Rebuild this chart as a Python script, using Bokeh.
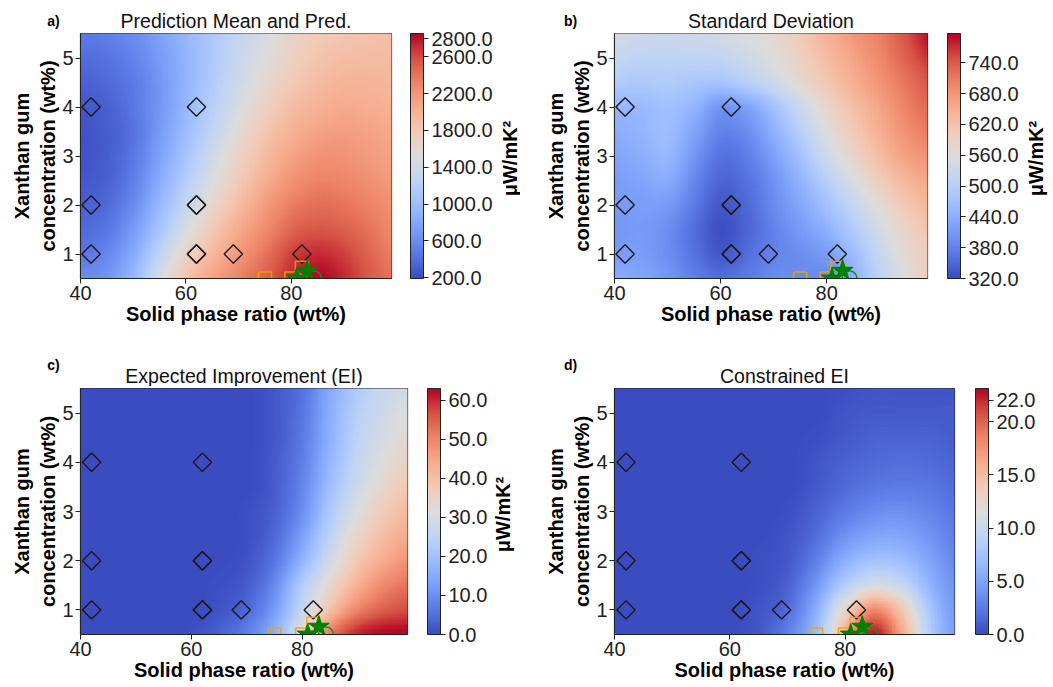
import numpy as np
from bokeh.plotting import figure
from bokeh.layouts import column, row
from bokeh.models import (LinearColorMapper, ColorBar, FixedTicker, PrintfTickFormatter,
                          Label, AllLabels)
from bokeh.embed import file_html
from bokeh.resources import INLINE

# ---------------- data ----------------
x_cols = [40, 45, 50, 55, 60, 65, 70, 75, 80, 85, 90, 95, 100]
y_rows = [0.5, 1.0, 1.5, 2.0, 2.5, 3.0, 3.5, 4.0, 4.5, 5.0, 5.5]

# rows listed from y = 0.5 (bottom) to y = 5.5 (top)
mean_grid = [
    [590, 670, 940, 1440, 1840, 2110, 2320, 2510, 2720, 2850, 2720, 2540, 2380],
    [460, 560, 830, 1260, 1660, 1950, 2190, 2400, 2640, 2720, 2640, 2480, 2320],
    [380, 460, 700, 1070, 1470, 1790, 2060, 2270, 2480, 2560, 2510, 2400, 2270],
    [320, 380, 590, 940, 1310, 1630, 1920, 2160, 2350, 2430, 2400, 2320, 2220],
    [270, 320, 510, 830, 1180, 1500, 1790, 2030, 2220, 2320, 2300, 2240, 2160],
    [240, 300, 460, 750, 1070, 1390, 1680, 1920, 2110, 2220, 2220, 2160, 2110],
    [240, 300, 430, 700, 990, 1280, 1580, 1820, 2000, 2110, 2140, 2110, 2060],
    [270, 320, 460, 670, 940, 1200, 1470, 1710, 1900, 2000, 2060, 2030, 2000],
    [320, 380, 480, 670, 910, 1150, 1390, 1600, 1790, 1920, 1980, 1980, 1950],
    [400, 430, 540, 700, 910, 1120, 1340, 1520, 1710, 1840, 1900, 1920, 1920],
    [480, 510, 590, 750, 940, 1120, 1310, 1470, 1660, 1790, 1840, 1870, 1900],
]
std_grid = [
    [434, 425, 406, 377, 358, 372, 392, 392, 392, 444, 511, 559, 597],
    [415, 415, 396, 363, 334, 358, 382, 396, 415, 463, 525, 573, 606],
    [406, 411, 396, 358, 325, 349, 382, 411, 444, 492, 544, 587, 621],
    [411, 415, 411, 372, 334, 353, 392, 430, 473, 520, 568, 611, 640],
    [415, 425, 434, 387, 349, 363, 401, 449, 501, 554, 601, 640, 663],
    [425, 439, 454, 406, 363, 377, 420, 473, 535, 582, 630, 668, 687],
    [439, 449, 463, 425, 382, 396, 444, 501, 559, 606, 649, 687, 711],
    [454, 458, 468, 449, 406, 425, 473, 530, 582, 625, 663, 702, 730],
    [492, 487, 492, 482, 477, 501, 535, 573, 611, 649, 683, 716, 749],
    [520, 511, 511, 511, 516, 535, 559, 592, 630, 663, 697, 735, 773],
    [544, 535, 530, 535, 544, 554, 573, 606, 644, 678, 706, 749, 797],
]
ei_grid = [
    [0, 0, 0, 0, 0.6, 3.2, 7.6, 16.4, 32.8, 51.7, 60.5, 63.0, 63.0],
    [0, 0, 0, 0, 0, 1.3, 4.4, 12.6, 26.5, 40.3, 50.4, 55.4, 57.3],
    [0, 0, 0, 0, 0, 0.6, 2.5, 9.5, 23.3, 34.0, 43.5, 49.8, 52.9],
    [0, 0, 0, 0, 0, 0, 1.3, 6.3, 17.0, 29.0, 38.4, 44.7, 48.5],
    [0, 0, 0, 0, 0, 0, 0.6, 4.4, 13.2, 25.2, 34.7, 41.0, 44.7],
    [0, 0, 0, 0, 0, 0, 0.6, 3.2, 10.1, 22.1, 31.5, 37.8, 42.2],
    [0, 0, 0, 0, 0, 0, 0, 2.5, 8.8, 19.5, 28.4, 34.7, 39.1],
    [0, 0, 0, 0, 0, 0, 0, 2.5, 7.6, 17.6, 26.5, 32.1, 36.5],
    [0, 0, 0, 0, 0, 0, 0, 1.9, 6.9, 16.4, 25.2, 30.2, 34.0],
    [0, 0, 0, 0, 0, 0, 0, 1.9, 6.3, 15.8, 23.9, 28.4, 32.1],
    [0, 0, 0, 0, 0, 0, 0, 1.9, 5.7, 15.1, 22.7, 27.1, 30.2],
]
cei_grid = [
    [0, 0, 0, 0, 0, 0.7, 2.8, 6.9, 15.7, 22.6, 16.2, 8.1, 4.2],
    [0, 0, 0, 0, 0, 0.5, 1.8, 5.8, 12.7, 18.0, 13.9, 7.4, 3.9],
    [0, 0, 0, 0, 0, 0.2, 1.2, 4.2, 8.5, 11.1, 9.7, 6.0, 3.5],
    [0, 0, 0, 0, 0, 0.2, 0.7, 2.8, 5.8, 7.4, 6.9, 4.9, 3.0],
    [0, 0, 0, 0, 0, 0, 0.5, 1.8, 3.9, 5.1, 5.1, 3.9, 2.5],
    [0, 0, 0, 0, 0, 0, 0.2, 1.2, 2.5, 3.5, 3.7, 3.0, 2.1],
    [0, 0, 0, 0, 0, 0, 0, 0.7, 1.6, 2.3, 2.5, 2.3, 1.6],
    [0, 0, 0, 0, 0, 0, 0, 0.5, 1.2, 1.6, 1.8, 1.6, 1.2],
    [0, 0, 0, 0, 0, 0, 0, 0.2, 0.7, 1.2, 1.2, 1.2, 0.9],
    [0, 0, 0, 0, 0, 0, 0, 0, 0.5, 0.7, 0.7, 0.7, 0.7],
    [0, 0, 0, 0, 0, 0, 0, 0, 0.2, 0.5, 0.5, 0.5, 0.5],
]

color_low = [190, 320, 0, 0]
color_high = [2855, 797, 63, 23.1]
mean_ticks = [200, 600, 1000, 1400, 1800, 2200, 2600, 2800]
std_ticks = [320, 380, 440, 500, 560, 620, 680, 740]
ei_ticks = [0, 10, 20, 30, 40, 50, 60]
cei_ticks = [0, 5, 10, 15, 20, 22]

titles = ["Prediction Mean and Pred.", "Standard Deviation", "Expected Improvement (EI)", "Constrained EI"]
letters = ["a)", "b)", "c)", "d)"]
unit_labels = ["μW/mK²", "μW/mK²", "μW/mK²", ""]

obs_x = [42, 42, 42, 62, 62, 62, 62, 62, 69, 82]
obs_y = [1, 2, 4, 1, 1, 2, 2, 4, 1, 1]
cand_x = [75, 80, 82]
cand_y = [0.5, 0.5, 0.72]
best_x = [81, 83]
best_y = [0.5, 0.66]
ring_x = [84.3]
ring_y = [0.5]

x_tick_vals = [40, 60, 80]
y_tick_vals = [1, 2, 3, 4, 5]
x_lim = (40, 99)
y_lim = (0.5, 5.5)

# ---------------- style ----------------
coolwarm_anchors = ['#3b4cc0', '#5a78e4', '#7b9ff9', '#9ebeff', '#c0d4f5', '#dddcdc',
                    '#f2cbb7', '#f7ac8e', '#ee8468', '#d65244', '#b40426']


def build_palette(anchors, n=256):
    rgb = np.array([[int(a[i:i + 2], 16) for i in (1, 3, 5)] for a in anchors], dtype=float)
    pos = np.linspace(0, 1, len(anchors))
    t = np.linspace(0, 1, n)
    cols = np.stack([np.interp(t, pos, rgb[:, k]) for k in range(3)], axis=1)
    return ['#%02x%02x%02x' % tuple(int(round(v)) for v in c) for c in cols]


PALETTE = build_palette(coolwarm_anchors)
FONT = "Liberation Sans"


def _cr_axis(a, n_out, axis):
    """Smooth (Catmull-Rom) display resampling of the read grid along one axis."""
    a = np.moveaxis(a, axis, 0)
    n = a.shape[0]
    u = np.linspace(0, n - 1, n_out)
    i = np.clip(np.floor(u).astype(int), 0, n - 2)
    t = (u - i)[:, None]
    p0 = a[np.clip(i - 1, 0, n - 1)]
    p1 = a[i]
    p2 = a[i + 1]
    p3 = a[np.clip(i + 2, 0, n - 1)]
    out = 0.5 * ((2 * p1) + (-p0 + p2) * t + (2 * p0 - 5 * p1 + 4 * p2 - p3) * t ** 2
                 + (-p0 + 3 * p1 - 3 * p2 + p3) * t ** 3)
    return np.moveaxis(out, 0, axis)


def render_field(grid, lo, hi, nx=241, ny=201):
    a = np.array(grid, dtype=float)
    a = _cr_axis(a, ny, 0)
    a = _cr_axis(a, nx, 1)
    return np.clip(a, lo, hi), nx, ny


def text_canvas(w, h):
    """A blank figure whose frame fills it; holds free text / colour bar in pixel units."""
    f = figure(width=w, height=h, x_range=(0, w), y_range=(0, h), min_border=0,
               x_axis_type=None, y_axis_type=None, output_backend="svg",
               toolbar_location=None, tools="")
    f.grid.visible = False
    f.outline_line_color = None
    f.background_fill_color = "white"
    f.border_fill_color = "white"
    return f


def make_panel(idx, grid, ticks, W, H, fw, fh, bl, bt, bb, cb_x, unit_left, unit_cx, unit_ty,
               letter_x, letter_ty, title_ty):
    lo, hi = color_low[idx], color_high[idx]
    mapper = LinearColorMapper(palette=PALETTE, low=lo, high=hi)
    top_pad, right_pad = 2, 2
    main_w = bl + fw + right_pad
    p = figure(frame_width=fw, frame_height=fh, min_border_left=bl,
               min_border_right=right_pad, min_border_top=top_pad,
               min_border_bottom=bb, x_range=x_lim, y_range=y_lim,
               output_backend="svg", toolbar_location=None, tools="")
    field, nx, ny = render_field(grid, lo, hi)
    sx = (x_cols[-1] - x_cols[0]) / (nx - 1)
    sy = (y_rows[-1] - y_rows[0]) / (ny - 1)
    p.image(image=[field], x=x_cols[0] - sx / 2, y=y_rows[0] - sy / 2,
            dw=sx * nx, dh=sy * ny, color_mapper=mapper)

    p.scatter(obs_x, obs_y, marker="square", angle=np.pi / 4, size=13,
              fill_color=None, line_color="#1a1a1a", line_width=1.4)
    p.scatter(cand_x, cand_y, marker="square", size=13, fill_color=None,
              line_color="#f5a000", line_alpha=0.85, line_width=1.6)
    p.scatter(ring_x, ring_y, marker="circle", size=15, fill_color=None,
              line_color="#1f8a1f", line_width=1.6)
    p.scatter(best_x, best_y, marker="star", size=22, fill_color="#008000",
              line_color="#008000")

    p.grid.visible = False
    p.outline_line_color = "#222222"
    p.outline_line_width = 1.2
    p.xaxis.ticker = FixedTicker(ticks=x_tick_vals)
    p.yaxis.ticker = FixedTicker(ticks=y_tick_vals)
    p.xaxis.axis_label = "Solid phase ratio (wt%)"
    p.yaxis.axis_label = "Xanthan gum\nconcentration (wt%)"
    for ax in (p.xaxis[0], p.yaxis[0]):
        ax.axis_label_text_font = FONT
        ax.axis_label_text_font_style = "bold"
        ax.axis_label_text_font_size = "20px"
        ax.axis_label_text_color = "black"
        ax.major_label_text_font = FONT
        ax.major_label_text_font_size = "20px"
        ax.major_label_text_color = "#222222"
        ax.major_tick_in = 0
        ax.major_tick_out = 5
        ax.minor_tick_in = 0
        ax.minor_tick_out = 0
        ax.axis_line_color = "#222222"
        ax.major_tick_line_color = "#222222"
        ax.axis_label_standoff = 0
        ax.major_label_standoff = 2
    p.background_fill_color = "white"
    p.border_fill_color = "white"

    # strip above the frame: panel letter and title (kept out of frame alignment)
    hs = bt - top_pad
    strip = text_canvas(main_w, hs)
    strip.add_layout(Label(x=bl + fw / 2, y=hs - title_ty, text=titles[idx], text_font=FONT,
                           text_font_size="19.5px", text_align="center",
                           text_baseline="middle", text_color="#111111"))
    strip.add_layout(Label(x=letter_x, y=hs - letter_ty, text=letters[idx], text_font=FONT,
                           text_font_size="14px", text_font_style="bold",
                           text_color="black",
                           text_align="center", text_baseline="middle"))
    left = column(row(strip, spacing=0), row(p, spacing=0), spacing=0)

    # colour bar in its own full-height canvas
    cb_right = unit_left if unit_labels[idx] else W
    cbf = text_canvas(cb_right - main_w, H)
    cb = ColorBar(color_mapper=mapper, ticker=FixedTicker(ticks=ticks),
                  formatter=PrintfTickFormatter(format="%.1f"),
                  major_label_policy=AllLabels(),
                  location=(cb_x - main_w, bb), width=13, height=fh, margin=0, padding=0,
                  major_label_text_font=FONT, major_label_text_font_size="20px",
                  major_label_text_color="#222222",
                  major_tick_in=0, major_tick_out=5, major_tick_line_color="#222222",
                  minor_tick_in=0, minor_tick_out=0,
                  bar_line_color="#222222", bar_line_width=1,
                  background_fill_color=None, border_line_color=None, label_standoff=3)
    cbf.add_layout(cb, "center")

    parts = [left, cbf]
    if unit_labels[idx]:
        uf = text_canvas(W - unit_left, H)
        uf.add_layout(Label(x=unit_cx - unit_left, y=H - unit_ty,
                            angle=np.pi / 2, text=unit_labels[idx], text_font=FONT,
                            text_font_size="20px", text_font_style="bold",
                            text_color="black",
                            text_align="center", text_baseline="middle"))
        parts.append(uf)
    return row(*parts, spacing=0)


#                 idx grid       ticks       W    H    fw   fh  bl  bt  bb  cb_x unitL unitX unitY letX letY titY
pa = make_panel(0, mean_grid, mean_ticks, 520, 340, 311, 245, 80, 33, 62, 410, 499, 509, 158, 53, 20, 20)
pb = make_panel(1, std_grid, std_ticks, 533, 340, 313, 245, 94, 33, 62, 427, 505, 515, 158, 50, 20, 20)
pc = make_panel(2, ei_grid, ei_ticks, 520, 347, 327, 246, 80, 48, 53, 427, 493, 502, 174, 53, 24, 35)
pd = make_panel(3, cei_grid, cei_ticks, 533, 347, 340, 246, 94, 48, 53, 455, 533, 0, 0, 50, 24, 35)

layout = column(row(pa, pb, spacing=0), row(pc, pd, spacing=0), spacing=0)

open("out.html", "w").write(file_html(layout, INLINE))
